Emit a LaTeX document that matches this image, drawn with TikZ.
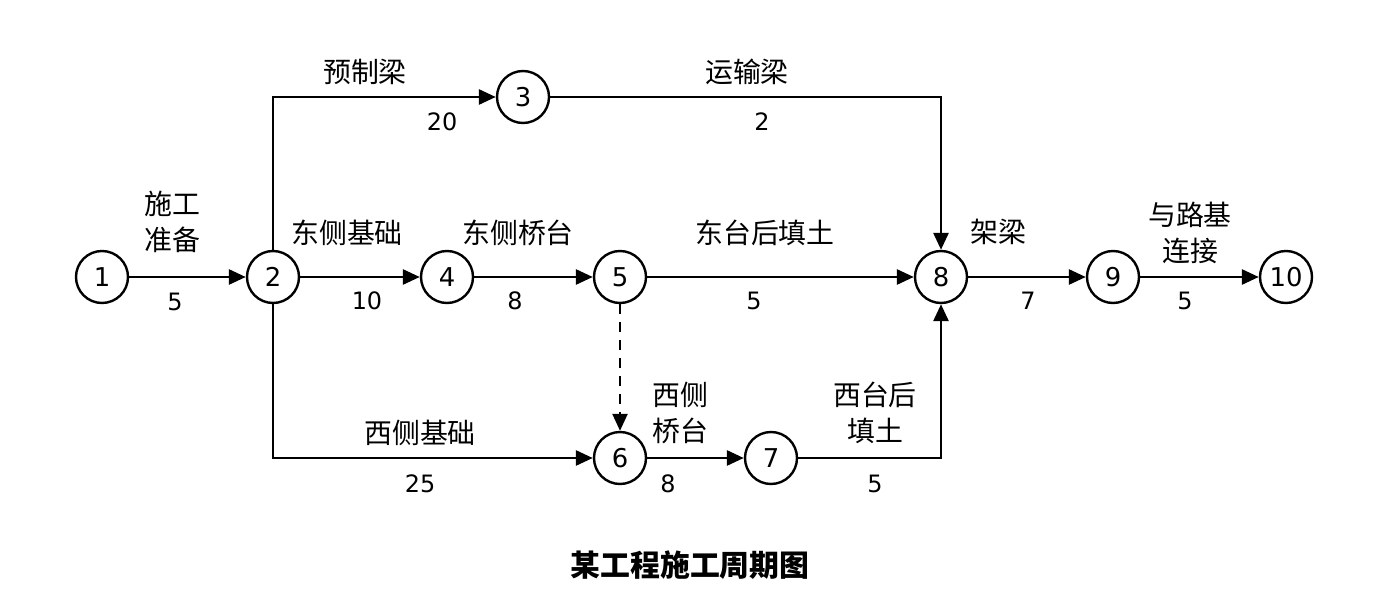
\documentclass[tikz,border=0pt]{standalone}
\usepackage{fontspec}
\setmainfont{DejaVu Sans}
\newfontfamily\cjk{Noto Sans CJK SC}
\usetikzlibrary{arrows.meta}

\begin{document}
\begin{tikzpicture}[x=0.5bp,y=-0.5bp,>={Triangle[length=8.5bp,width=7.5bp]},
ev/.style={circle,draw,line width=1.2bp,minimum size=26bp,inner sep=0pt,font=\fontsize{13}{13}\selectfont},
job/.style={font=\cjk\fontsize{14}{18}\selectfont,align=center},
dur/.style={font=\fontsize{12}{12}\selectfont},
act/.style={line width=1.4bp,->}]
\useasboundingbox[fill=white](0,0)rectangle(1395,592);
% events
\node[ev](n1)at(102,277){1};
\node[ev](n2)at(273,277){2};
\node[ev](n3)at(523,97){3};
\node[ev](n4)at(447,277){4};
\node[ev](n5)at(620,277){5};
\node[ev](n6)at(620,458){6};
\node[ev](n7)at(771,458){7};
\node[ev](n8)at(941,277){8};
\node[ev](n9)at(1113,277){9};
\node[ev](n10)at(1286,277){10};
% activities
\draw[act](n1)--(n2);
\draw[act](n2.north)|-(n3);
\draw[act](n3)-|(n8.north);
\draw[act](n2)--(n4);
\draw[act](n4)--(n5);
\draw[act](n5)--(n8);
\draw[act,dashed,line width=1.2bp,dash pattern=on 5bp off 4bp](n5)--(n6);
\draw[act](n2.south)|-(n6);
\draw[act](n6)--(n7);
\draw[act](n7)-|(n8.south);
\draw[act](n8)--(n9);
\draw[act](n9)--(n10);
% labels
\node[job](t12)at(172,222){施工\\准备};
\node[dur](d12)at(175,302){5};
\node[job](t23)at(365,72){预制梁};
\node[dur](d23)at(442,122){20};
\node[job](t38)at(747,72){运输梁};
\node[dur](d38)at(762,122){2};
\node[job](t24)at(347,233){东侧基础};
\node[dur](d24)at(367,301){10};
\node[job](t45)at(518,233){东侧桥台};
\node[dur](d45)at(515,301){8};
\node[job](t58)at(765,233){东台后填土};
\node[dur](d58)at(754,301){5};
\node[job](t89)at(998,232){架梁};
\node[dur](d89)at(1028,301){7};
\node[job](t910)at(1190,233){与路基\\连接};
\node[dur](d910)at(1185,301){5};
\node[job](t26)at(420,433){西侧基础};
\node[dur](d26)at(420,484){25};
\node[job](t67)at(680,413){西侧\\桥台};
\node[dur](d67)at(668,484){8};
\node[job](t78)at(875,413){西台后\\填土};
\node[dur](d78)at(875,484){5};
\node[font=\cjk\bfseries\fontsize{15}{15}\selectfont](title)at(690,565){某工程施工周期图};
\end{tikzpicture}
\end{document}
